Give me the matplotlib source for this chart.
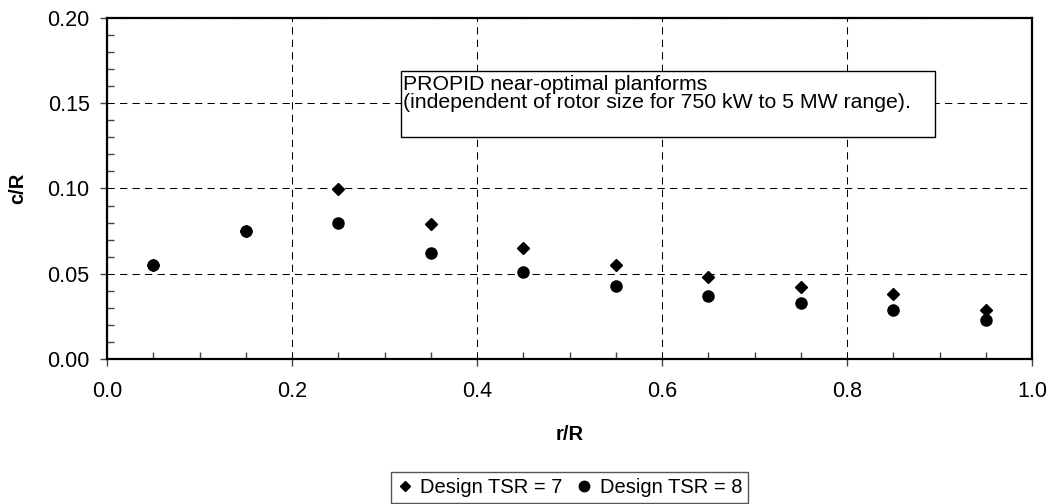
import matplotlib
matplotlib.use('Agg')
import matplotlib.pyplot as plt
from matplotlib.ticker import MultipleLocator, FormatStrFormatter
from matplotlib.patches import Rectangle
from matplotlib.lines import Line2D

# ---- data ----
r_R = [0.05, 0.15, 0.25, 0.35, 0.45, 0.55, 0.65, 0.75, 0.85, 0.95]
cR_tsr7 = [0.055, 0.075, 0.100, 0.079, 0.065, 0.055, 0.048, 0.0425, 0.038, 0.029]
cR_tsr8 = [0.055, 0.075, 0.080, 0.062, 0.051, 0.043, 0.037, 0.033, 0.029, 0.023]
series_labels = ["Design TSR = 7", "Design TSR = 8"]
x_label = "r/R"
y_label = "c/R"
note_lines = ["PROPID near-optimal planforms",
              "(independent of rotor size for 750 kW to 5 MW range)."]

plt.rcParams['font.family'] = ['Liberation Sans', 'DejaVu Sans']

W, H = 1053, 504
fig = plt.figure(figsize=(W / 100, H / 100), dpi=100)

def fx(px):
    return px / W

def fy(py):
    return 1 - py / H

L, R, T, B = 107, 1032, 18, 359
ax = fig.add_axes([fx(L), fy(B), (R - L) / W, (B - T) / H])

ax.plot(r_R, cR_tsr7, linestyle='none', marker='D', markersize=5.8,
        color='black', zorder=3)
ax.plot(r_R, cR_tsr8, linestyle='none', marker='o', markersize=8,
        color='black', zorder=4)

ax.set_xlim(0, 1.0)
ax.set_ylim(0, 0.20)
ax.xaxis.set_major_locator(MultipleLocator(0.2))
ax.xaxis.set_minor_locator(MultipleLocator(0.05))
ax.yaxis.set_major_locator(MultipleLocator(0.05))
ax.yaxis.set_minor_locator(MultipleLocator(0.01))
ax.xaxis.set_major_formatter(FormatStrFormatter('%.1f'))
ax.yaxis.set_major_formatter(FormatStrFormatter('%.2f'))

ax.tick_params(which='major', direction='out', length=5, width=1,
               labelsize=15.5, color='#444444')
ax.tick_params(axis='x', which='major', pad=10.5)
ax.tick_params(axis='y', which='major', pad=7.5)
ax.tick_params(which='minor', direction='in', length=5, width=1, color='#444444')

ax.grid(True, which='major', color='black', linewidth=0.75,
        linestyle=(0, (7, 5)))
ax.set_axisbelow(True)
for s in ax.spines.values():
    s.set_linewidth(1.6)
    s.set_color('black')

fig.text(fx(18), fy(188), y_label, rotation=90, ha='center', va='center',
         fontsize=14.5, fontweight='bold')
fig.text(fx(569.5), fy(435), x_label, ha='center', va='center',
         fontsize=14.5, fontweight='bold')

# annotation box
box_l, box_t, box_r, box_b = 400.7, 71, 935, 136.7
fig.patches.append(Rectangle((fx(box_l), fy(box_b)), (box_r - box_l) / W,
                             (box_b - box_t) / H, transform=fig.transFigure,
                             facecolor='white', edgecolor='black',
                             linewidth=1.0, zorder=5))
fig.text(fx(403), fy(90), note_lines[0], ha='left', va='baseline',
         fontsize=15.3, zorder=6)
fig.text(fx(403), fy(108.3), note_lines[1], ha='left', va='baseline',
         fontsize=15.3, zorder=6)

handles = [Line2D([], [], linestyle='none', marker='D', markersize=5.2, color='black'),
           Line2D([], [], linestyle='none', marker='o', markersize=7.5, color='black')]
leg = fig.legend(handles, series_labels, loc='upper center',
                 bbox_to_anchor=(fx(569.4), fy(471.7)), ncol=2,
                 frameon=True, fancybox=False, edgecolor='#555555',
                 framealpha=1, handlelength=0.8, handletextpad=0.35,
                 columnspacing=0.7, borderpad=0.3, fontsize=14.5,
                 borderaxespad=0)
leg.get_frame().set_linewidth(1.0)

fig.savefig('out.png', dpi=100)
